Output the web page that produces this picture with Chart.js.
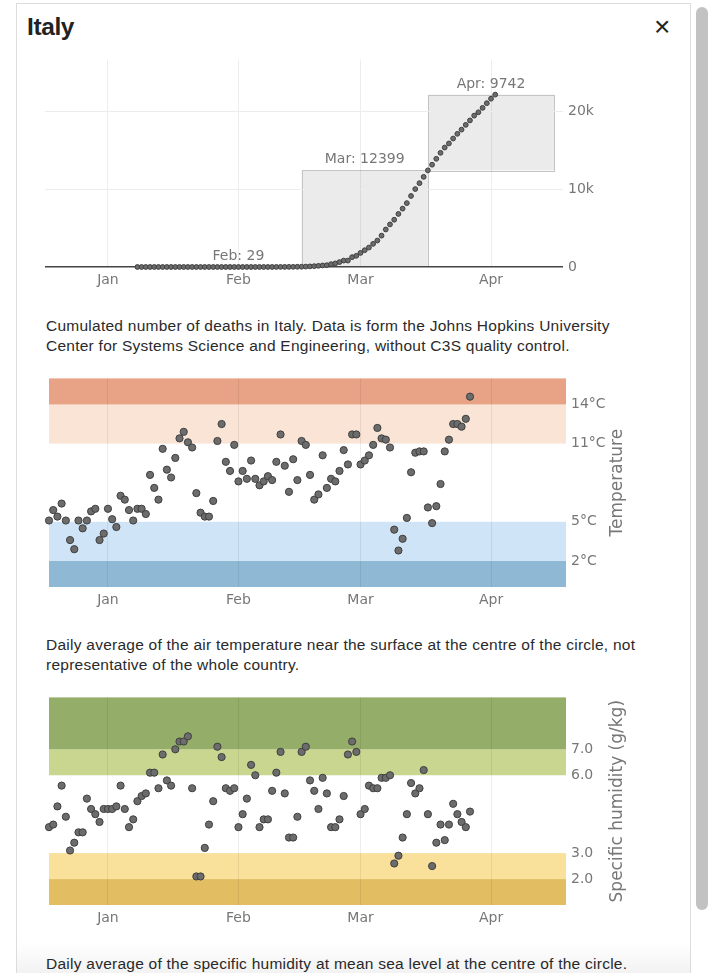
<!DOCTYPE html>
<html>
<head>
<meta charset="utf-8">
<script src="https://cdn.jsdelivr.net/npm/chart.js@4.4.1/dist/chart.umd.min.js"></script>
<style>
  html, body { margin: 0; padding: 0; background: #fff; width: 719px; height: 973px; overflow: hidden; }
  .modal { position: absolute; left: 16px; top: 3px; width: 673px; height: 990px; border: 1px solid #dcdcdc; background: #fff; }
  .title { position: absolute; left: 27px; top: 13px; margin: 0; font: bold 24.5px/28px "Liberation Sans", Arial, sans-serif; color: #222; letter-spacing: -0.4px; }
  .close { position: absolute; left: 654px; top: 13px; font: 28px/28px "Liberation Sans", Arial, sans-serif; color: #222; }
  .caption { position: absolute; left: 46px; width: 600px; margin: 0; font: 15.5px/20px "Liberation Sans", Arial, sans-serif; letter-spacing: 0.25px; color: #2a2a2a; }
  canvas { position: absolute; left: 0; }
  .thumb { position: absolute; left: 696px; top: 7px; width: 12px; height: 903px; background: #c2c2c2; border-radius: 6px; }
  .fade { position: absolute; left: 17px; top: 942px; width: 673px; height: 31px; background: linear-gradient(to bottom, rgba(0,0,0,0), rgba(0,0,0,0.05)); }
</style>
</head>
<body>
<div class="modal"></div>
<div class="thumb"></div>
<h2 class="title">Italy</h2>
<div class="close">×</div>

<canvas id="deaths-chart" width="680" height="247" style="top:46px"></canvas>
<p class="caption" style="top:316px">Cumulated number of deaths in Italy. Data is form the Johns Hopkins University Center for Systems Science and Engineering, without C3S quality control.</p>

<canvas id="temp-chart" width="680" height="248" style="top:365px"></canvas>
<p class="caption" style="top:635px">Daily average of the air temperature near the surface at the centre of the circle, not representative of the whole country.</p>

<canvas id="hum-chart" width="680" height="247" style="top:684px"></canvas>
<p class="caption" style="top:954px">Daily average of the specific humidity at mean sea level at the centre of the circle.</p>
<div class="fade"></div>

<script>
// asse x in giorni dal 1 gennaio 2020, etichette a metà mese
const tickDays = [14, 45, 74, 105];
const tickNames = ['Jan', 'Feb', 'Mar', 'Apr'];

// decessi cumulati, dal 22 gennaio al 16 aprile
const deathFirstDay = 21;
const deaths = [
  0, 0, 0, 0, 0, 0, 0, 0, 0, 0, 0, 0, 0, 0, 0, 0, 0, 0, 0, 0,
  0, 0, 0, 0, 0, 0, 0, 0, 0, 0,
  1, 2, 3, 7, 10, 12, 17, 21, 29,
  34, 52, 79, 107, 148, 197, 233, 366, 463, 631, 827, 827, 1266, 1441, 1809, 2158,
  2503, 2978, 3405, 4032, 4825, 5476, 6077, 6820, 7503, 8215, 9134, 10023, 10779, 11591, 12428,
  13155, 13915, 14681, 15362, 15887, 16523, 17127, 17669, 18279, 18849, 19468, 19899, 20465, 21067, 21645, 22170
];
const deathTicks = [0, 10000, 20000];

// riquadri mensili
const monthNames = ['Feb', 'Mar', 'Apr'];
const monthFrom = [30, 60, 90];
const monthTo = [60, 90, 120];
const monthBase = [0, 29, 12428];
const monthDeaths = [29, 12399, 9742];

// temperatura media giornaliera (°C), dal 1 gennaio
const tempFirstDay = 0;
const temperature = [
  5.1, 5.9, 5.4, 6.4, 5.1, 3.6, 2.9, 5.1, 4.5, 5.1,
  5.8, 6.0, 3.6, 4.1, 6.0, 5.2, 4.6, 7.0, 6.7, 5.9,
  5.1, 6.0, 6.0, 5.6, 8.6, 7.6, 6.7, 10.6, 9.0, 8.4,
  9.9, 11.4, 11.9, 11.1, 10.7, 7.2, 5.7, 5.4, 5.4, 6.6,
  11.2, 12.5, 9.6, 8.9, 10.9, 8.1, 8.9, 8.3, 9.7, 8.3,
  7.8, 8.1, 8.5, 8.2, 9.6, 11.7, 9.3, 7.3, 9.8, 8.2,
  11.2, 10.9, 8.6, 6.7, 7.1, 10.1, 7.6, 8.3, 8.1, 8.9,
  10.5, 9.4, 11.7, 11.7, 9.4, 9.7, 10.1, 10.9, 12.2, 11.4,
  11.3, 10.7, 4.4, 2.8, 3.7, 5.3, 8.8, 10.3, 10.4, 10.4,
  6.1, 4.9, 6.2, 7.9, 10.4, 11.3, 12.5, 12.5, 12.3, 12.9,
  14.6
];
const tempTicks = [2, 5, 11, 14];
const tempBands = [0, 2, 5, 11, 14, 16];

// umidità specifica media giornaliera (g/kg), dal 1 gennaio
const humFirstDay = 0;
const humidity = [
  4.0, 4.1, 4.8, 5.6, 4.4, 3.1, 3.4, 3.8, 3.8, 5.1,
  4.7, 4.5, 4.2, 4.7, 4.7, 4.7, 4.8, 5.6, 4.7, 4.0,
  4.3, 5.0, 5.2, 5.3, 6.1, 6.1, 5.5, 6.8, 5.8, 5.6,
  7.0, 7.3, 7.3, 7.5, 5.5, 2.1, 2.1, 3.2, 4.1, 5.0,
  7.1, 6.7, 5.5, 5.4, 5.5, 4.0, 4.5, 5.1, 6.4, 6.0,
  4.0, 4.3, 4.3, 5.4, 6.1, 6.9, 5.3, 3.6, 3.6, 4.4,
  6.9, 7.1, 5.8, 5.4, 4.7, 5.9, 5.3, 4.0, 4.0, 4.3,
  5.2, 6.8, 7.3, 6.9, 4.5, 4.7, 5.6, 5.5, 5.5, 5.9,
  5.9, 6.0, 2.6, 2.9, 3.6, 4.5, 5.7, 5.3, 5.5, 6.2,
  4.5, 2.5, 3.4, 4.1, 3.5, 4.1, 4.9, 4.5, 4.2, 4.0,
  4.6
];
const humTicks = [2, 3, 6, 7];
const humBands = [1, 2, 3, 6, 7, 9];

const tempColors = ['#8fb8d4', '#cfe4f7', null, '#fae4d6', '#e8a387'];
const humColors = ['#e2bd62', '#fae19b', null, '#c8d68f', '#94ad68'];

Chart.defaults.font.family = '"DejaVu Sans", Verdana, sans-serif';

function toPoints(first, values) {
  return values.map((v, i) => ({ x: first + i, y: v }));
}

// fasce colorate orizzontali sotto la griglia
function bandsPlugin(edges, colors) {
  return {
    id: 'bands',
    beforeDraw(chart) {
      const { ctx, chartArea, scales } = chart;
      ctx.save();
      colors.forEach((c, i) => {
        if (!c) return;
        const y0 = scales.y.getPixelForValue(edges[i]);
        const y1 = scales.y.getPixelForValue(edges[i + 1]);
        ctx.fillStyle = c;
        ctx.fillRect(chartArea.left, y1, chartArea.right - chartArea.left, y0 - y1);
      });
      ctx.restore();
    }
  };
}

// titolo asse verticale letto dal basso verso l'alto
function sideTitlePlugin(text) {
  return {
    id: 'sideTitle',
    afterDraw(chart) {
      const { ctx, chartArea } = chart;
      ctx.save();
      ctx.translate(618, (chartArea.top + chartArea.bottom) / 2);
      ctx.rotate(-Math.PI / 2);
      ctx.font = '17px "DejaVu Sans"';
      ctx.fillStyle = '#777';
      ctx.textAlign = 'center';
      ctx.textBaseline = 'middle';
      ctx.fillText(text, 0, 0);
      ctx.restore();
    }
  };
}

// riquadri grigi dei mesi con etichetta
const monthBoxPlugin = {
  id: 'monthBoxes',
  beforeDraw(chart) {
    const { ctx, scales } = chart;
    ctx.save();
    monthNames.forEach((m, i) => {
      const x0 = scales.x.getPixelForValue(monthFrom[i]);
      const x1 = scales.x.getPixelForValue(monthTo[i]);
      const y0 = scales.y.getPixelForValue(monthBase[i]);
      const y1 = scales.y.getPixelForValue(monthBase[i] + monthDeaths[i]);
      ctx.fillStyle = '#ebebeb';
      ctx.fillRect(x0, y1, x1 - x0, y0 - y1);
      ctx.strokeStyle = '#c4c4c4';
      ctx.lineWidth = 1;
      ctx.strokeRect(Math.round(x0) + 0.5, Math.round(y1) + 0.5, Math.round(x1 - x0), Math.round(y0 - y1));
    });
    ctx.restore();
  },
  afterDatasetsDraw(chart) {
    const { ctx, scales } = chart;
    ctx.save();
    ctx.font = '14px "DejaVu Sans"';
    ctx.fillStyle = '#777';
    ctx.textAlign = 'center';
    ctx.textBaseline = 'alphabetic';
    monthNames.forEach((m, i) => {
      const xc = scales.x.getPixelForValue((monthFrom[i] + monthTo[i]) / 2);
      const yt = scales.y.getPixelForValue(monthBase[i] + monthDeaths[i]);
      ctx.fillText(m + ': ' + monthDeaths[i], xc, yt - 7);
    });
    ctx.restore();
  }
};

function dayAxis(min, max, pad) {
  return {
    type: 'linear', min, max,
    grid: { color: 'rgba(0,0,0,0.07)', drawTicks: false },
    border: { display: false },
    afterBuildTicks: s => { s.ticks = tickDays.map(v => ({ value: v })); },
    afterFit: s => { s.height = 26; },
    ticks: {
      padding: pad, color: '#777', font: { size: 14 }, autoSkip: false, maxRotation: 0,
      callback: v => tickNames[tickDays.indexOf(v)]
    }
  };
}

function valueAxis(min, max, ticks, label, gridColor) {
  return {
    position: 'right', min, max,
    grid: { display: !!gridColor, color: gridColor || 'transparent', drawTicks: false, lineWidth: c => (c.tick && c.tick.value === 0 ? 1.5 : 1) },
    border: { display: false },
    afterBuildTicks: s => { s.ticks = ticks.map(v => ({ value: v })); },
    afterFit: s => { s.width = 57; },
    ticks: { padding: 5, color: '#777', font: { size: 14 }, autoSkip: false, callback: label }
  };
}

function dotChart(id, opts) {
  return new Chart(document.getElementById(id), {
    type: 'scatter',
    data: {
      datasets: [{
        data: opts.points,
        pointRadius: opts.radius,
        pointHoverRadius: opts.radius,
        backgroundColor: '#6c6c6c',
        borderColor: '#3f3f3f',
        borderWidth: 1,
        clip: false
      }]
    },
    options: {
      responsive: false,
      animation: false,
      events: [],
      layout: { padding: { left: opts.left, top: 10, right: opts.right, bottom: 0 } },
      plugins: { legend: { display: false }, tooltip: { enabled: false } },
      scales: { x: opts.x, y: opts.y }
    },
    plugins: opts.plugins
  });
}

dotChart('deaths-chart', {
  points: toPoints(deathFirstDay, deaths),
  radius: 2.4,
  left: 45, right: 60,
  x: dayAxis(-0.95, 122.1, 5),
  y: valueAxis(0, 26700, deathTicks, v => (v === 0 ? '0' : (v / 1000) + 'k'),
    c => (c.tick && c.tick.value === 0 ? '#444' : '#ececec')),
  plugins: [monthBoxPlugin]
});

dotChart('temp-chart', {
  points: toPoints(tempFirstDay, temperature),
  radius: 3.6,
  left: 49, right: 57,
  x: dayAxis(0, 122.8, 5),
  y: valueAxis(0, 16, tempTicks, v => v + '°C'),
  plugins: [bandsPlugin(tempBands, tempColors), sideTitlePlugin('Temperature')]
});

dotChart('hum-chart', {
  points: toPoints(humFirstDay, humidity),
  radius: 3.6,
  left: 49, right: 57,
  x: dayAxis(0, 122.8, 5),
  y: valueAxis(1, 9, humTicks, v => v.toFixed(1)),
  plugins: [bandsPlugin(humBands, humColors), sideTitlePlugin('Specific humidity (g/kg)')]
});
</script>
</body>
</html>
